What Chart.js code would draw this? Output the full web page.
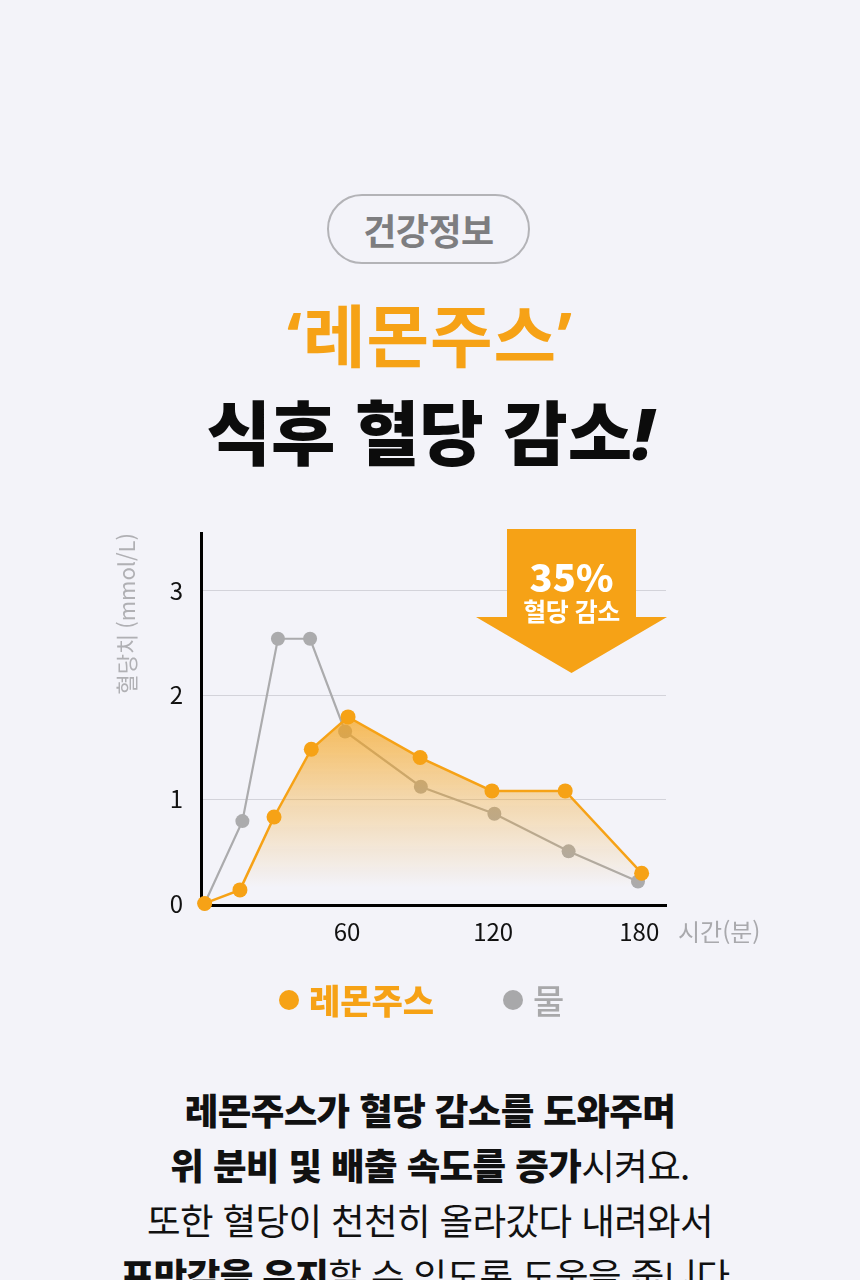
<!DOCTYPE html>
<html lang="ko">
<head>
<meta charset="utf-8">
<script src="https://cdn.jsdelivr.net/npm/chart.js@4.4.1/dist/chart.umd.min.js"></script>
<style>
  html, body { margin:0; padding:0; width:860px; height:1280px; overflow:hidden; background:#f3f3f9;
    font-family:"Noto Sans CJK KR","Noto Sans",sans-serif; }
  .abs { position:absolute; }
  .badge { left:327px; top:194px; width:199px; height:66px; border:2px solid #b3b3b7; border-radius:36px;
    display:flex; align-items:center; justify-content:center; font-size:36px; font-weight:700; color:#7d7d80; letter-spacing:-0.5px; }
  .t1 { left:0; width:860px; text-align:center; top:299px; height:68px; line-height:68px; font-size:68px; font-weight:700; color:#f6a216; letter-spacing:1px; }
  .t1 .q { font-family:"Noto Sans","Liberation Sans",sans-serif; font-weight:700; }
  .t2 { left:0; width:860px; text-align:center; top:395px; height:70px; line-height:70px; font-size:70px; font-weight:900; color:#0c0c0c; letter-spacing:0px; }
  .t2 i { font-family:"Noto Sans","Liberation Sans",sans-serif; font-style:italic; font-weight:900; }
  #wrap { left:0; top:500px; width:860px; height:480px; }
  .arrow { left:476px; top:529px; width:191px; height:144px; background:#f6a216;
    clip-path:polygon(31px 0, 160px 0, 160px 88px, 191px 88px, 95.5px 144px, 0 88px, 31px 88px); z-index:5; }
  .a1 { left:476px; width:191px; text-align:center; top:557px; height:38px; line-height:38px; font-size:38px; font-weight:800; color:#fff; z-index:6; }
  .a2 { left:476px; width:191px; text-align:center; top:598px; height:25px; line-height:25px; font-size:25px; font-weight:700; color:#fff; z-index:6; letter-spacing:-0.5px; }
  .legend { top:983px; height:34px; line-height:34px; font-size:34px; font-weight:800; }
  .dot { position:absolute; width:20px; height:20px; border-radius:50%; top:7px; }
  .body { left:0; width:860px; text-align:center; top:1082px; font-size:36.5px; line-height:55px; color:#111; letter-spacing:-0.6px; font-weight:400; }
  .body b { font-weight:800; }
</style>
</head>
<body>
<div class="abs badge">건강정보</div>
<div class="abs t1"><span class="q">‘</span>레몬주스<span class="q">’</span></div>
<div class="abs t2">식후 혈당 감소<i>!</i></div>

<div id="wrap" class="abs"><canvas id="c" width="860" height="480"></canvas></div>

<div class="abs arrow"></div>
<div class="abs a1">35%</div>
<div class="abs a2">혈당 감소</div>

<div class="abs legend" style="left:279px; color:#f6a216;"><span class="dot" style="left:0; background:#f6a216;"></span><span style="position:absolute; left:30px; white-space:nowrap;">레몬주스</span></div>
<div class="abs legend" style="left:503px; color:#a8a8aa; font-weight:500;"><span class="dot" style="left:0; background:#a8a8aa;"></span><span style="position:absolute; left:30px; white-space:nowrap;">물</span></div>

<div class="abs body">
  <b>레몬주스가 혈당 감소를 도와주며</b><br>
  <b>위 분비 및 배출 속도를 증가</b>시켜요.<br>
  또한 혈당이 천천히 올라갔다 내려와서<br>
  <b>포만감을 유지</b>할 수 있도록 도움을 줍니다.
</div>

<script>
// ---- data ----
const SERIES_NAMES = ['레몬주스', '물'];
const LEMON_T = [1.5, 16, 30, 45.3, 60.4, 90, 119.5, 149.6, 181];
const LEMON_V = [0, 0.13, 0.83, 1.48, 1.79, 1.40, 1.08, 1.08, 0.29];
const WATER_T = [1.5, 17, 31.6, 44.8, 59.2, 90.3, 120.5, 151, 179.5];
const WATER_V = [0, 0.79, 2.54, 2.54, 1.65, 1.12, 0.86, 0.50, 0.21];
const X_TICKS = [60, 120, 180];
const Y_TICKS = [0, 1, 2, 3];
const Y_TITLE = '혈당치 (mmol/L)';
const X_UNIT = '시간(분)';

const ORANGE = '#f6a216';
const GRAY = '#ababad';
const FONT = '"Noto Sans CJK KR", "Noto Sans", sans-serif';

const toPoints = (ts, vs) => ts.map((t, i) => ({ x: t, y: vs[i] }));

const xUnitPlugin = {
  id: 'xUnit',
  afterDraw(chart) {
    const { ctx, scales: { x } } = chart;
    ctx.save();
    ctx.font = '400 24px ' + FONT;
    ctx.fillStyle = '#a9a9ad';
    ctx.textAlign = 'left';
    ctx.textBaseline = 'middle';
    ctx.fillText(X_UNIT, x.right + 12, x.top + 12 + 14.4);
    ctx.restore();
  }
};

new Chart(document.getElementById('c'), {
  type: 'line',
  data: {
    datasets: [
      {
        label: SERIES_NAMES[0],
        data: toPoints(LEMON_T, LEMON_V),
        borderColor: ORANGE,
        borderWidth: 2.5,
        pointRadius: 7.5,
        pointBackgroundColor: ORANGE,
        pointBorderWidth: 0,
        tension: 0,
        clip: false,
        fill: 'origin',
        backgroundColor: (c) => {
          const chart = c.chart;
          const area = chart.chartArea;
          if (!area) return 'rgba(246,162,22,0.3)';
          const y = chart.scales.y;
          const g = chart.ctx.createLinearGradient(0, y.getPixelForValue(1.8), 0, y.getPixelForValue(0.15));
          g.addColorStop(0, 'rgba(246,162,22,0.72)');
          g.addColorStop(0.5, 'rgba(246,162,22,0.32)');
          g.addColorStop(1, 'rgba(246,162,22,0)');
          return g;
        }
      },
      {
        label: SERIES_NAMES[1],
        data: toPoints(WATER_T, WATER_V),
        borderColor: GRAY,
        borderWidth: 2.2,
        pointRadius: 7,
        pointBackgroundColor: GRAY,
        pointBorderWidth: 0,
        tension: 0,
        clip: false,
        fill: false
      }
    ]
  },
  options: {
    responsive: false,
    animation: false,
    events: [],
    layout: { padding: { left: 100, right: 194, top: 33, bottom: 25 } },
    plugins: { legend: { display: false }, tooltip: { enabled: false } },
    scales: {
      x: {
        type: 'linear',
        min: 0,
        max: 191,
        afterBuildTicks: (s) => { s.ticks = X_TICKS.map(v => ({ value: v })); },
        afterFit: (s) => { s.height = 50; },
        grid: { display: false, drawTicks: false },
        border: { display: true, color: '#000', width: 3 },
        ticks: { color: '#111', font: { family: FONT, size: 24 }, padding: 12, maxRotation: 0 }
      },
      y: {
        min: -0.015,
        max: 3.555,
        afterBuildTicks: (s) => { s.ticks = Y_TICKS.map(v => ({ value: v })); },
        afterFit: (s) => { s.width = 101; },
        grid: { color: (c) => c.tick && c.tick.value === 0 ? 'rgba(0,0,0,0)' : '#d3d3da', lineWidth: 1, drawTicks: false },
        border: { display: true, color: '#000', width: 3 },
        ticks: { color: '#111', font: { family: FONT, size: 24 }, padding: 18 },
        title: { display: true, text: Y_TITLE, align: 'end', color: '#b0b0b4', font: { family: FONT, size: 22 }, padding: { top: 13, bottom: 0 } }
      }
    }
  },
  plugins: [xUnitPlugin]
});
</script>
</body>
</html>
